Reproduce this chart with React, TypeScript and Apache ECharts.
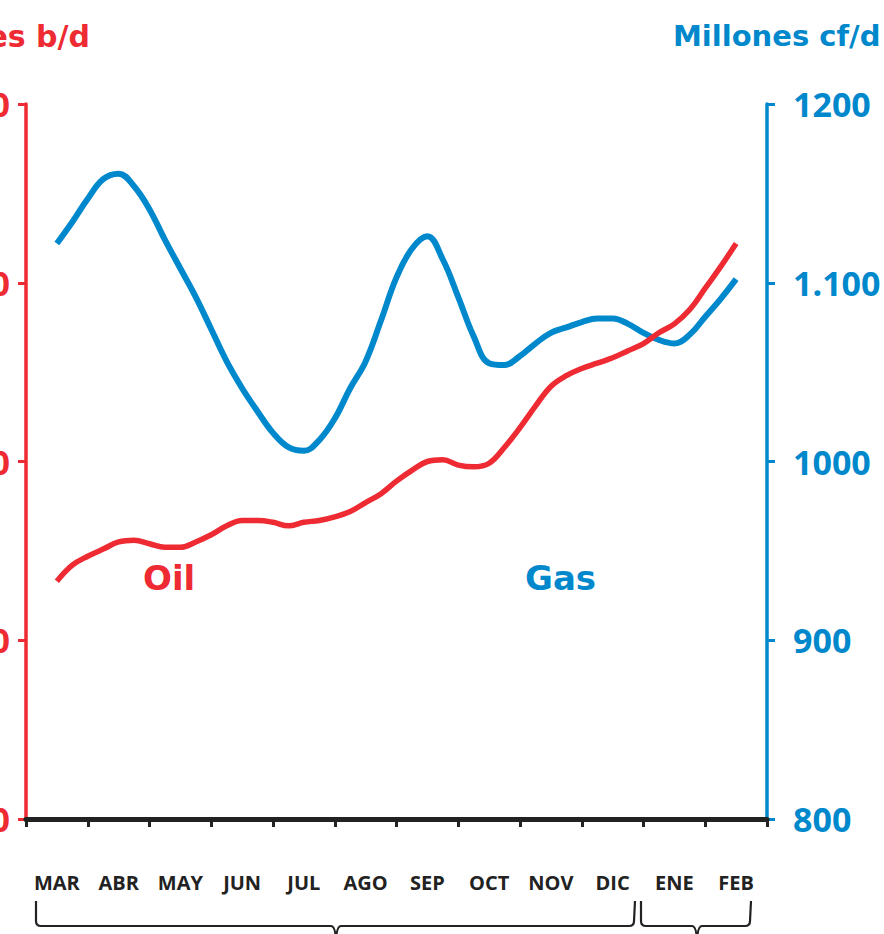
import React, { useEffect, useRef } from "react";
import * as echarts from "echarts";

const months = ["MAR", "ABR", "MAY", "JUN", "JUL", "AGO", "SEP", "OCT", "NOV", "DIC", "ENE", "FEB"];
// sampled every quarter month, starting at the middle of MAR
const step = 0.25;
const oilValues = [
  733, 742, 747, 751, 755, 756, 754, 752, 752, 755, 759, 764, 767, 767, 766, 764,
  766, 767, 769, 772, 777, 782, 789, 795, 800, 801, 798, 797, 799, 808, 819, 831,
  842, 848, 852, 855, 858, 862, 866, 872, 877, 885, 897, 909, 922,
];
const gasValues = [
  1122, 1134, 1147, 1158, 1161, 1154, 1141, 1124, 1108, 1092, 1074, 1056, 1041, 1028, 1016, 1008,
  1006, 1012, 1024, 1041, 1056, 1079, 1103, 1119, 1126, 1113, 1092, 1070, 1055, 1054, 1059, 1066,
  1072, 1075, 1078, 1080, 1080, 1077, 1072, 1068, 1066, 1071, 1081, 1091, 1102,
];
const oilTicks = [600, 700, 800, 900, 1000];
const oilTickLabels = ["600", "700", "800", "900", "1000"];
const gasTicks = [800, 900, 1000, 1100, 1200];
const gasTickLabels = ["800", "900", "1000", "1.100", "1200"];

const RED = "#EE2A32";
const BLUE = "#0088CC";
const DARK = "#222222";

function bracePath(x1: number, x2: number, c: number, y0: number, y1: number, y2: number) {
  return (
    `M${x1} ${y0} L${x1} ${y1 - 5} Q${x1} ${y1} ${x1 + 5} ${y1} L${c - 5} ${y1} Q${c} ${y1} ${c} ${y2} ` +
    `M${c} ${y2} Q${c} ${y1} ${c + 5} ${y1} L${x2 - 5} ${y1} Q${x2} ${y1} ${x2} ${y1 - 5} L${x2 + 1} ${y0}`
  );
}

let registered = false;
function registerShapes() {
  if (registered) return;
  registered = true;
  const d = bracePath(36, 634, 336, 901, 926, 945) + " " + bracePath(641, 750, 697, 901, 926, 945);
  echarts.graphic.registerShape("braces", echarts.graphic.extendPath(d, {}) as any);
}

export default function App() {
  const ref = useRef<HTMLDivElement>(null);
  useEffect(() => {
    if (!ref.current) return;
    registerShapes();
    const chart = echarts.init(ref.current, null, { renderer: "svg" });
    const oilData = oilValues.map((v, i) => [i * step, v]);
    const gasData = gasValues.map((v, i) => [i * step, v]);
    const numFont = "'Open Sans', 'Noto Sans', sans-serif";
    const titleFont = "'DejaVu Sans', Verdana, sans-serif";
    chart.setOption({
      animation: false,
      backgroundColor: "#ffffff",
      grid: {
        left: 26,
        right: 117,
        top: 104,
        bottom: 115,
        containLabel: false,
        outerBoundsMode: "none",
      },
      xAxis: [
        {
          type: "category",
          data: months,
          boundaryGap: true,
          position: "bottom",
          axisLine: { show: true, onZero: false, lineStyle: { color: DARK, width: 5 } },
          axisTick: { show: true, length: 8, interval: 0, lineStyle: { color: DARK, width: 3 } },
          axisLabel: {
            interval: 0,
            margin: 53,
            color: DARK,
            fontSize: 20,
            fontWeight: "bold",
            fontFamily: numFont,
          },
          splitLine: { show: false },
          z: 5,
        },
        {
          type: "value",
          min: -0.5,
          max: 11.5,
          show: false,
        },
      ],
      yAxis: [
        {
          type: "value",
          position: "left",
          min: oilTicks[0],
          max: oilTicks[oilTicks.length - 1],
          interval: 100,
          axisLine: { show: true, onZero: false, lineStyle: { color: RED, width: 3.5 } },
          axisTick: { show: true, length: 8, lineStyle: { color: RED, width: 3 } },
          axisLabel: {
            margin: 16,
            color: RED,
            fontSize: 34,
            fontWeight: "bold",
            fontFamily: numFont,
            formatter: (v: number) => oilTickLabels[oilTicks.indexOf(v)] ?? String(v),
          },
          splitLine: { show: false },
        },
        {
          type: "value",
          position: "right",
          min: gasTicks[0],
          max: gasTicks[gasTicks.length - 1],
          interval: 100,
          axisLine: { show: true, onZero: false, lineStyle: { color: BLUE, width: 3.5 } },
          axisTick: { show: true, length: 8, lineStyle: { color: BLUE, width: 3 } },
          axisLabel: {
            margin: 26,
            color: BLUE,
            fontSize: 34,
            fontWeight: "bold",
            fontFamily: numFont,
            formatter: (v: number) => gasTickLabels[gasTicks.indexOf(v)] ?? String(v),
          },
          splitLine: { show: false },
        },
      ],
      series: [
        {
          name: "Gas",
          type: "line",
          xAxisIndex: 1,
          yAxisIndex: 1,
          data: gasData,
          showSymbol: false,
          smooth: 0.4,
          lineStyle: { color: BLUE, width: 6 },
          z: 3,
        },
        {
          name: "Oil",
          type: "line",
          xAxisIndex: 1,
          yAxisIndex: 0,
          data: oilData,
          showSymbol: false,
          smooth: 0.4,
          lineStyle: { color: RED, width: 5.5 },
          z: 4,
        },
      ],
      graphic: [
        {
          type: "text",
          x: 90,
          y: 36,
          style: {
            text: "Miles b/d",
            fill: RED,
            font: `bold 30px ${titleFont}`,
            textAlign: "right",
            textVerticalAlign: "middle",
          },
        },
        {
          type: "text",
          x: 673,
          y: 36,
          style: {
            text: "Millones cf/d",
            fill: BLUE,
            font: `bold 29px ${titleFont}`,
            textAlign: "left",
            textVerticalAlign: "middle",
          },
        },
        {
          type: "text",
          x: 143,
          y: 578,
          style: {
            text: "Oil",
            fill: RED,
            font: `bold 34px ${titleFont}`,
            textAlign: "left",
            textVerticalAlign: "middle",
          },
        },
        {
          type: "text",
          x: 525,
          y: 578,
          style: {
            text: "Gas",
            fill: BLUE,
            font: `bold 34px ${titleFont}`,
            textAlign: "left",
            textVerticalAlign: "middle",
          },
        },
        {
          type: "braces",
          x: 0,
          y: 0,
          style: { fill: "none", stroke: DARK, lineWidth: 2.2 },
        },
      ],
    });
    return () => chart.dispose();
  }, []);
  return (
    <div
      ref={ref}
      style={{ position: "absolute", left: 0, top: 0, width: 884, height: 934, overflow: "hidden" }}
    />
  );
}
